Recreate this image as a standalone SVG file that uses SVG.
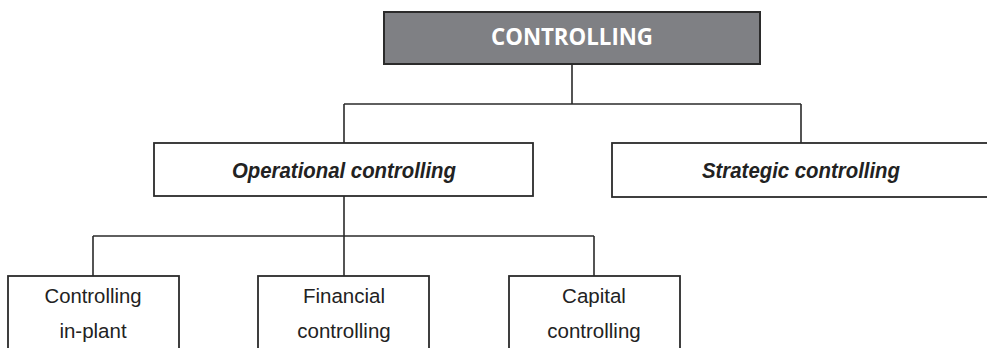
<svg xmlns="http://www.w3.org/2000/svg" width="987" height="348" viewBox="0 0 987 348">
<style>
.box{fill:#fff;stroke:#2b2b2b;stroke-width:1.8}
.top{fill:#7f8084;stroke:#2b2b2b;stroke-width:2}
.ln{fill:none;stroke:#2b2b2b;stroke-width:1.6}
.t1{font-family:"Open Sans","Liberation Sans",sans-serif;font-weight:bold;font-size:23.5px;fill:#fff;text-anchor:middle}
.t2{font-family:"Liberation Sans",Arial,sans-serif;font-weight:bold;font-style:italic;font-size:22.5px;fill:#222;text-anchor:middle}
.t3{font-family:"Liberation Sans",Arial,sans-serif;font-size:20.5px;fill:#222;text-anchor:middle}
</style>
<rect width="987" height="348" fill="#fff"/>
<g id="connectors">
<path class="ln" d="M572 64V104M344 104H801M344 104V143M801 104V143"/>
<path class="ln" d="M344 196V236M93 236H594M93 236V276M344 236V276M594 236V276"/>
</g>
<g id="controlling">
<rect class="top" x="384" y="12" width="376" height="52"/>
<text class="t1" x="572" y="45" textLength="162" lengthAdjust="spacingAndGlyphs">CONTROLLING</text>
</g>
<g id="operational">
<rect class="box" x="154" y="143" width="379" height="53"/>
<text class="t2" x="344" y="178" textLength="224" lengthAdjust="spacingAndGlyphs">Operational controlling</text>
</g>
<g id="strategic">
<rect class="box" x="612" y="143" width="380" height="54"/>
<text class="t2" x="801" y="178" textLength="198" lengthAdjust="spacingAndGlyphs">Strategic controlling</text>
</g>
<g id="inplant">
<rect class="box" x="8" y="276" width="171" height="80"/>
<text class="t3" x="93" y="303" textLength="97" lengthAdjust="spacingAndGlyphs">Controlling</text>
<text class="t3" x="93" y="338">in-plant</text>
</g>
<g id="financial">
<rect class="box" x="258" y="276" width="171" height="80"/>
<text class="t3" x="344" y="303">Financial</text>
<text class="t3" x="344" y="338">controlling</text>
</g>
<g id="capital">
<rect class="box" x="509" y="276" width="171" height="80"/>
<text class="t3" x="594" y="303">Capital</text>
<text class="t3" x="594" y="338">controlling</text>
</g>
</svg>
